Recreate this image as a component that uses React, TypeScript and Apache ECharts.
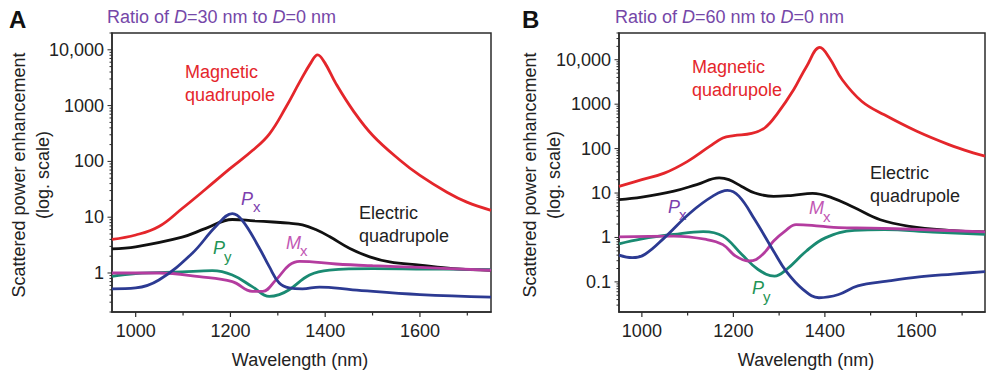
import React, { useEffect, useRef } from "react";
import * as echarts from "echarts";

// ---------- Panel A (D=30 nm / D=0 nm) ----------
const A_MQ_WL = [950, 1000, 1049, 1098, 1148, 1199, 1247, 1282, 1317, 1346, 1370, 1384, 1399, 1423, 1459, 1501, 1558, 1600, 1657, 1699, 1750];
const A_MQ = [4.0, 4.8, 6.8, 14.3, 32, 74, 158, 309, 933, 2630, 5890, 8130, 5890, 2450, 813, 288, 105, 56, 28, 18.6, 13.3];

const A_EQ_WL = [950, 1000, 1098, 1148, 1204, 1250, 1290, 1324, 1352, 1380, 1409, 1452, 1494, 1536, 1600, 1670, 1750];
const A_EQ = [2.7, 2.95, 4.4, 6.3, 9.1, 8.6, 8.2, 7.8, 7.3, 6.0, 4.5, 2.75, 1.95, 1.58, 1.38, 1.2, 1.12];

const A_PX_WL = [950, 1000, 1049, 1119, 1169, 1204, 1225, 1260, 1282, 1303, 1324, 1352, 1388, 1458, 1600, 1750];
const A_PX = [0.52, 0.54, 0.75, 2.24, 6.8, 11.6, 8.8, 2.9, 1.3, 0.66, 0.54, 0.52, 0.56, 0.5, 0.41, 0.37];

const A_PY_WL = [950, 1000, 1098, 1162, 1204, 1246, 1282, 1303, 1324, 1367, 1409, 1500, 1600, 1750];
const A_PY = [0.87, 0.98, 1.05, 1.10, 0.92, 0.57, 0.38, 0.41, 0.5, 0.92, 1.13, 1.2, 1.18, 1.15];

const A_MX_WL = [950, 1050, 1134, 1204, 1246, 1268, 1296, 1324, 1346, 1423, 1500, 1600, 1750];
const A_MX = [1.0, 1.0, 0.86, 0.70, 0.47, 0.47, 0.75, 1.38, 1.62, 1.45, 1.35, 1.26, 1.12];

// ---------- Panel B (D=60 nm / D=0 nm) ----------
const B_MQ_WL = [950, 1000, 1049, 1099, 1148, 1177, 1201, 1240, 1269, 1297, 1332, 1360, 1389, 1410, 1438, 1481, 1530, 1601, 1671, 1728, 1750];
const B_MQ = [14.1, 20, 28, 51, 112, 174, 195, 219, 295, 631, 2140, 7080, 19000, 10960, 3550, 1150, 575, 245, 123, 78, 68];

const B_EQ_WL = [950, 1000, 1070, 1120, 1169, 1190, 1218, 1247, 1288, 1330, 1373, 1416, 1464, 1521, 1585, 1671, 1750];
const B_EQ = [7.1, 8.1, 11, 15.5, 21.9, 20, 14.1, 10, 8.4, 8.9, 9.8, 7.8, 4.7, 2.5, 1.78, 1.45, 1.33];

const B_PX_WL = [950, 979, 1007, 1049, 1106, 1155, 1187, 1212, 1247, 1288, 1316, 1352, 1387, 1430, 1472, 1536, 1606, 1680, 1750];
const B_PX = [0.40, 0.35, 0.42, 0.98, 3.6, 8.5, 11.5, 8.5, 2.5, 0.49, 0.17, 0.068, 0.044, 0.052, 0.081, 0.104, 0.13, 0.15, 0.17];

const B_PY_WL = [950, 1000, 1070, 1134, 1177, 1218, 1254, 1290, 1316, 1359, 1401, 1465, 1530, 1636, 1750];
const B_PY = [0.72, 0.93, 1.17, 1.35, 1.07, 0.42, 0.19, 0.135, 0.19, 0.49, 0.98, 1.45, 1.5, 1.32, 1.18];

const B_MX_WL = [950, 1070, 1141, 1177, 1205, 1233, 1250, 1270, 1288, 1315, 1337, 1389, 1430, 1500, 1606, 1750];
const B_MX = [1.03, 1.07, 0.90, 0.69, 0.38, 0.295, 0.32, 0.48, 0.83, 1.45, 1.95, 1.8, 1.66, 1.62, 1.51, 1.33];

// axis ranges and ticks
const X_MIN = 950;
const X_MAX = 1750;
const X_LABEL_STEP = 200;
const X_TICKS = [1000, 1100, 1200, 1300, 1400, 1500, 1600, 1700];
const A_Y_MIN = 0.2;
const A_Y_MAX = 20000;
const B_Y_MIN = 0.021;
const B_Y_MAX = 40000;

const FONT = "'Liberation Sans', Arial, Helvetica, sans-serif";
const C_RED = "#e4262b";
const C_BLACK = "#111111";
const C_BLUE = "#2c3a92";
const C_GREEN = "#1a8a72";
const C_MAG = "#b43c9f";
const C_TITLE = "#7547a8";
const C_PX = "#7d3fae";
const C_PY = "#1f9455";
const C_MXL = "#c257b4";
const C_AXIS = "#2b2b2b";

const zip = (xs: number[], ys: number[]) => xs.map((x, i) => [x, ys[i]]);

function logTickValues(min: number, max: number) {
  const out: number[][] = [];
  for (let k = -3; k <= 5; k++) {
    for (let m = 1; m <= 9; m++) {
      const v = m * Math.pow(10, k);
      if (v >= min && v <= max) out.push([X_MIN, v, m === 1 ? 1 : 0]);
    }
  }
  return out;
}

function yLabel(v: number) {
  const l = Math.log10(v);
  const r = Math.round(l);
  if (Math.abs(l - r) > 1e-6) return "";
  if (r === 4) return "10,000";
  if (r < 0) return Math.pow(10, r).toFixed(-r);
  return String(Math.round(Math.pow(10, r)));
}

function xLabel(v: number) {
  const r = Math.round(v);
  return r % X_LABEL_STEP === 0 ? String(r) : "";
}

function lineSeries(idx: number, data: number[][], color: string, z: number) {
  return {
    type: "line",
    xAxisIndex: idx,
    yAxisIndex: idx,
    data,
    showSymbol: false,
    smooth: 0.4,
    lineStyle: { color, width: 2.8 },
    z,
    silent: true,
  };
}

function yTickSeries(idx: number, min: number, max: number) {
  return {
    type: "custom",
    xAxisIndex: idx,
    yAxisIndex: idx,
    clip: false,
    silent: true,
    data: logTickValues(min, max),
    renderItem: (_p: any, api: any) => {
      const pt = api.coord([api.value(0), api.value(1)]);
      const len = api.value(2) ? 4.5 : 2.5;
      return {
        type: "line",
        shape: { x1: pt[0] - len, y1: pt[1], x2: pt[0], y2: pt[1] },
        style: { stroke: C_AXIS, lineWidth: 1 },
      };
    },
  };
}

function xTickSeries(idx: number, yMin: number) {
  return {
    type: "custom",
    xAxisIndex: idx,
    yAxisIndex: idx,
    clip: false,
    silent: true,
    data: X_TICKS.map((v) => [v, yMin, v % X_LABEL_STEP === 0 ? 1 : 0]),
    renderItem: (_p: any, api: any) => {
      const pt = api.coord([api.value(0), api.value(1)]);
      const len = api.value(2) ? 5 : 3.5;
      return {
        type: "line",
        shape: { x1: pt[0], y1: pt[1], x2: pt[0], y2: pt[1] + len },
        style: { stroke: C_AXIS, lineWidth: 1.2 },
      };
    },
  };
}

function xAxisCfg(idx: number) {
  return {
    type: "value",
    gridIndex: idx,
    min: X_MIN,
    max: X_MAX,
    interval: 50,
    axisLine: { show: true, onZero: false, lineStyle: { color: C_AXIS, width: 1.5 } },
    axisTick: { show: false },
    axisLabel: {
      fontSize: 18,
      fontFamily: FONT,
      color: "#222",
      margin: 10,
      formatter: xLabel,
    },
    splitLine: { show: false },
  };
}

function yAxisCfg(idx: number, min: number, max: number) {
  return {
    type: "log",
    logBase: 10,
    gridIndex: idx,
    min,
    max,
    axisLine: { show: true, onZero: false, lineStyle: { color: C_AXIS, width: 1.5 } },
    axisTick: { show: false },
    axisLabel: {
      fontSize: 18,
      fontFamily: FONT,
      color: "#222",
      margin: 8,
      showMinLabel: false,
      showMaxLabel: false,
      formatter: yLabel,
    },
    splitLine: { show: false },
  };
}

function txt(x: number, y: number, text: string, fill: string, size = 18, extra: any = {}) {
  return {
    type: "text",
    x,
    y,
    silent: true,
    style: {
      text,
      fill,
      font: `${extra.italic ? "italic " : ""}${extra.bold ? "bold " : ""}${size}px ${FONT}`,
      textAlign: extra.align || "left",
      textVerticalAlign: "middle",
      lineHeight: extra.lineHeight,
    },
    ...(extra.rotation ? { rotation: extra.rotation } : {}),
  };
}

function title(x: number, y: number, text: string) {
  return {
    type: "text",
    x,
    y,
    silent: true,
    style: {
      text,
      fill: C_TITLE,
      font: `18px ${FONT}`,
      textVerticalAlign: "middle",
      rich: {
        i: { fontStyle: "italic", fontSize: 18, fontFamily: FONT, fill: C_TITLE },
      },
    },
  };
}

export default function App() {
  const ref = useRef<HTMLDivElement>(null);
  useEffect(() => {
    if (!ref.current) return;
    const chart = echarts.init(ref.current, undefined, { renderer: "svg" });
    const option: any = {
      animation: false,
      backgroundColor: "#ffffff",
      grid: [
        { left: 112, top: 33, width: 379, height: 279, show: true, borderColor: C_AXIS, borderWidth: 1.5, backgroundColor: "transparent" },
        { left: 619, top: 33, width: 377, height: 279, show: true, borderColor: C_AXIS, borderWidth: 1.5, backgroundColor: "transparent" },
      ],
      xAxis: [xAxisCfg(0), xAxisCfg(1)],
      yAxis: [yAxisCfg(0, A_Y_MIN, A_Y_MAX), yAxisCfg(1, B_Y_MIN, B_Y_MAX)],
      series: [
        yTickSeries(0, A_Y_MIN, A_Y_MAX),
        yTickSeries(1, B_Y_MIN, B_Y_MAX),
        xTickSeries(0, A_Y_MIN),
        xTickSeries(1, B_Y_MIN),
        lineSeries(0, zip(A_MQ_WL, A_MQ), C_RED, 2),
        lineSeries(0, zip(A_EQ_WL, A_EQ), C_BLACK, 3),
        lineSeries(0, zip(A_PY_WL, A_PY), C_GREEN, 4),
        lineSeries(0, zip(A_MX_WL, A_MX), C_MAG, 5),
        lineSeries(0, zip(A_PX_WL, A_PX), C_BLUE, 6),
        lineSeries(1, zip(B_MQ_WL, B_MQ), C_RED, 2),
        lineSeries(1, zip(B_EQ_WL, B_EQ), C_BLACK, 3),
        lineSeries(1, zip(B_PY_WL, B_PY), C_GREEN, 4),
        lineSeries(1, zip(B_MX_WL, B_MX), C_MAG, 5),
        lineSeries(1, zip(B_PX_WL, B_PX), C_BLUE, 6),
      ],
      graphic: [
        // panel letters & titles
        txt(9, 19, "A", "#111", 24, { bold: true }),
        title(107, 17, "Ratio of {i|D}=30 nm to {i|D}=0 nm"),
        txt(522, 19, "B", "#111", 24, { bold: true }),
        title(615, 17, "Ratio of {i|D}=60 nm to {i|D}=0 nm"),
        // axis names
        txt(31, 175, "Scattered power enhancement\n(log. scale)", "#222", 18, { align: "center", rotation: Math.PI / 2, lineHeight: 24 }),
        txt(542, 175, "Scattered power enhancement\n(log. scale)", "#222", 18, { align: "center", rotation: Math.PI / 2, lineHeight: 24 }),
        txt(300, 360, "Wavelength (nm)", "#222", 18, { align: "center" }),
        txt(806, 360, "Wavelength (nm)", "#222", 18, { align: "center" }),
        // panel A annotations
        txt(185, 83, "Magnetic\nquadrupole", C_RED, 18, { lineHeight: 23 }),
        txt(359, 224, "Electric\nquadrupole", "#222", 18, { lineHeight: 23 }),
        txt(241, 199, "P", C_PX, 18, { italic: true }),
        txt(253, 206, "x", C_PX, 15),
        txt(213, 248, "P", C_PY, 18, { italic: true }),
        txt(224, 256, "y", C_PY, 15),
        txt(286, 243, "M", C_MXL, 18, { italic: true }),
        txt(300, 250, "x", C_MXL, 15),
        // panel B annotations
        txt(692, 78, "Magnetic\nquadrupole", C_RED, 18, { lineHeight: 23 }),
        txt(870, 184, "Electric\nquadrupole", "#222", 18, { lineHeight: 23 }),
        txt(668, 207, "P", C_PX, 18, { italic: true }),
        txt(679, 214, "x", C_PX, 15),
        txt(809, 208, "M", C_MXL, 18, { italic: true }),
        txt(823, 216, "x", C_MXL, 15),
        txt(752, 288, "P", C_PY, 18, { italic: true }),
        txt(763, 296, "y", C_PY, 15),
      ],
    };
    chart.setOption(option);
    return () => chart.dispose();
  }, []);
  return (
    <div
      ref={ref}
      style={{ position: "fixed", left: 0, top: 0, width: 988, height: 370, background: "#fff" }}
    />
  );
}
